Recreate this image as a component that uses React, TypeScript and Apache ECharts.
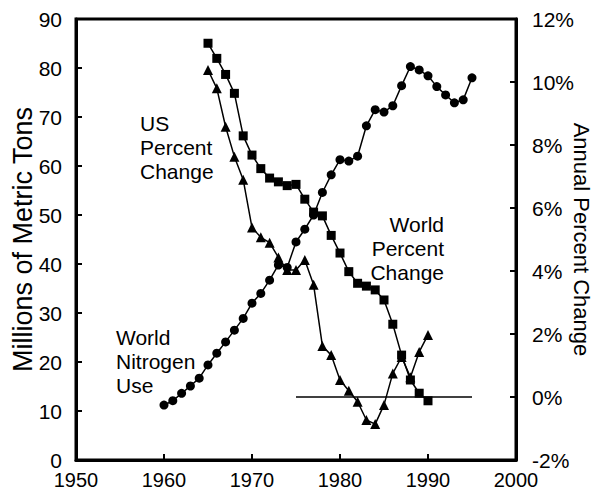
import React, { useEffect, useRef } from "react";
import * as echarts from "echarts";

const worldUseYears = [1960,1961,1962,1963,1964,1965,1966,1967,1968,1969,1970,1971,1972,1973,1974,1975,1976,1977,1978,1979,1980,1981,1982,1983,1984,1985,1986,1987,1988,1989,1990,1991,1992,1993,1994,1995];
const worldUse = [11.2,12.1,13.6,15.1,16.7,19.4,21.8,24.1,26.5,28.9,32.0,34.0,36.7,39.8,39.3,44.5,47.1,50.0,54.6,58.2,61.3,61.0,62.0,68.2,71.5,71.0,72.3,76.4,80.3,79.6,78.4,76.2,74.5,72.9,73.5,78.0];

const pctYears = [1965,1966,1967,1968,1969,1970,1971,1972,1973,1974,1975,1976,1977,1978,1979,1980,1981,1982,1983,1984,1985,1986,1987,1988,1989,1990];
const worldPct = [11.23,10.75,10.24,9.64,8.29,7.68,7.25,6.95,6.83,6.71,6.75,6.28,5.87,5.75,5.13,4.57,3.98,3.61,3.52,3.40,3.08,2.31,1.33,0.54,0.12,-0.12];
const usPct = [10.38,9.80,8.58,7.63,6.90,5.38,5.07,4.90,4.43,4.03,4.03,4.35,3.56,1.62,1.33,0.54,0.20,-0.15,-0.73,-0.86,-0.25,0.75,1.27,0.63,1.43,1.97];

const zeroLineYears = [1975, 1995];
const xTicks = { min: 1950, max: 2000, interval: 10 };
const leftTicks = { min: 0, max: 90, interval: 10 };
const rightTicks = { min: -2, max: 12, interval: 2 };

const FONT = "Liberation Sans, Arial, Helvetica, sans-serif";

export default function App() {
  const ref = useRef<HTMLDivElement>(null);
  useEffect(() => {
    if (!ref.current) return;
    const chart = echarts.init(ref.current, null, { renderer: "svg" });
    const axisLine = { lineStyle: { color: "#000", width: 3 } };
    const tickStyle = { inside: true, length: 6, lineStyle: { color: "#000", width: 2 } };
    const labelStyle = { color: "#000", fontSize: 21, fontFamily: FONT };
    const lines = (arr: string[], x: number, y0: number, align: string) =>
      arr.map((t, i) => ({
        type: "text",
        x,
        y: y0 + i * 24,
        style: { text: t, fill: "#000", font: `21px ${FONT}`, textAlign: align, textVerticalAlign: "middle" },
      }));
    chart.setOption({
      animation: false,
      backgroundColor: "#fff",
      grid: {
        left: 76, right: 78, top: 19, bottom: 35,
        outerBoundsMode: "none", containLabel: false,
        show: true, borderColor: "#000", borderWidth: 3,
      },
      xAxis: {
        type: "value",
        ...xTicks,
        axisLine,
        axisTick: tickStyle,
        axisLabel: { ...labelStyle, fontSize: 20, margin: 10, formatter: (v: number) => String(v) },
        splitLine: { show: false },
      },
      yAxis: [
        {
          type: "value",
          ...leftTicks,
          position: "left",
          axisLine: { show: true, ...axisLine },
          axisTick: tickStyle,
          axisLabel: { ...labelStyle, margin: 14 },
          splitLine: { show: false },
          name: "Millions of Metric Tons",
          nameLocation: "middle",
          nameRotate: 90,
          nameGap: 40,
          nameMoveOverlap: false,
          nameTextStyle: { color: "#000", fontSize: 27, fontFamily: FONT },
        },
        {
          type: "value",
          ...rightTicks,
          position: "right",
          axisLine: { show: true, ...axisLine },
          axisTick: tickStyle,
          axisLabel: { ...labelStyle, margin: 16, formatter: "{value}%" },
          splitLine: { show: false },
          name: "Annual Percent Change",
          nameLocation: "middle",
          nameRotate: -90,
          nameGap: 54,
          nameMoveOverlap: false,
          nameTextStyle: { color: "#000", fontSize: 22, fontFamily: FONT },
        },
      ],
      series: [
        {
          type: "line",
          yAxisIndex: 1,
          data: zeroLineYears.map((y) => [y, 0]),
          symbol: "none",
          lineStyle: { color: "#000", width: 1.3 },
          silent: true,
        },
        {
          type: "line",
          yAxisIndex: 1,
          data: pctYears.map((y, i) => [y, usPct[i]]),
          symbol: "triangle",
          symbolSize: 10,
          itemStyle: { color: "#000" },
          lineStyle: { color: "#000", width: 1.5 },
        },
        {
          type: "line",
          yAxisIndex: 1,
          data: pctYears.map((y, i) => [y, worldPct[i]]),
          symbol: "rect",
          symbolSize: 9,
          itemStyle: { color: "#000" },
          lineStyle: { color: "#000", width: 1.5 },
        },
        {
          type: "line",
          yAxisIndex: 0,
          data: worldUseYears.map((y, i) => [y, worldUse[i]]),
          symbol: "circle",
          symbolSize: 9,
          itemStyle: { color: "#000" },
          lineStyle: { color: "#000", width: 1.5 },
        },
      ],
      graphic: [
        ...lines(["US", "Percent", "Change"], 140, 123, "left"),
        ...lines(["World", "Percent", "Change"], 444, 224, "right"),
        ...lines(["World", "Nitrogen", "Use"], 116, 337, "left"),
      ],
    });
    return () => chart.dispose();
  }, []);
  return <div ref={ref} style={{ width: 594, height: 495, position: "absolute", left: 0, top: 0 }} />;
}
